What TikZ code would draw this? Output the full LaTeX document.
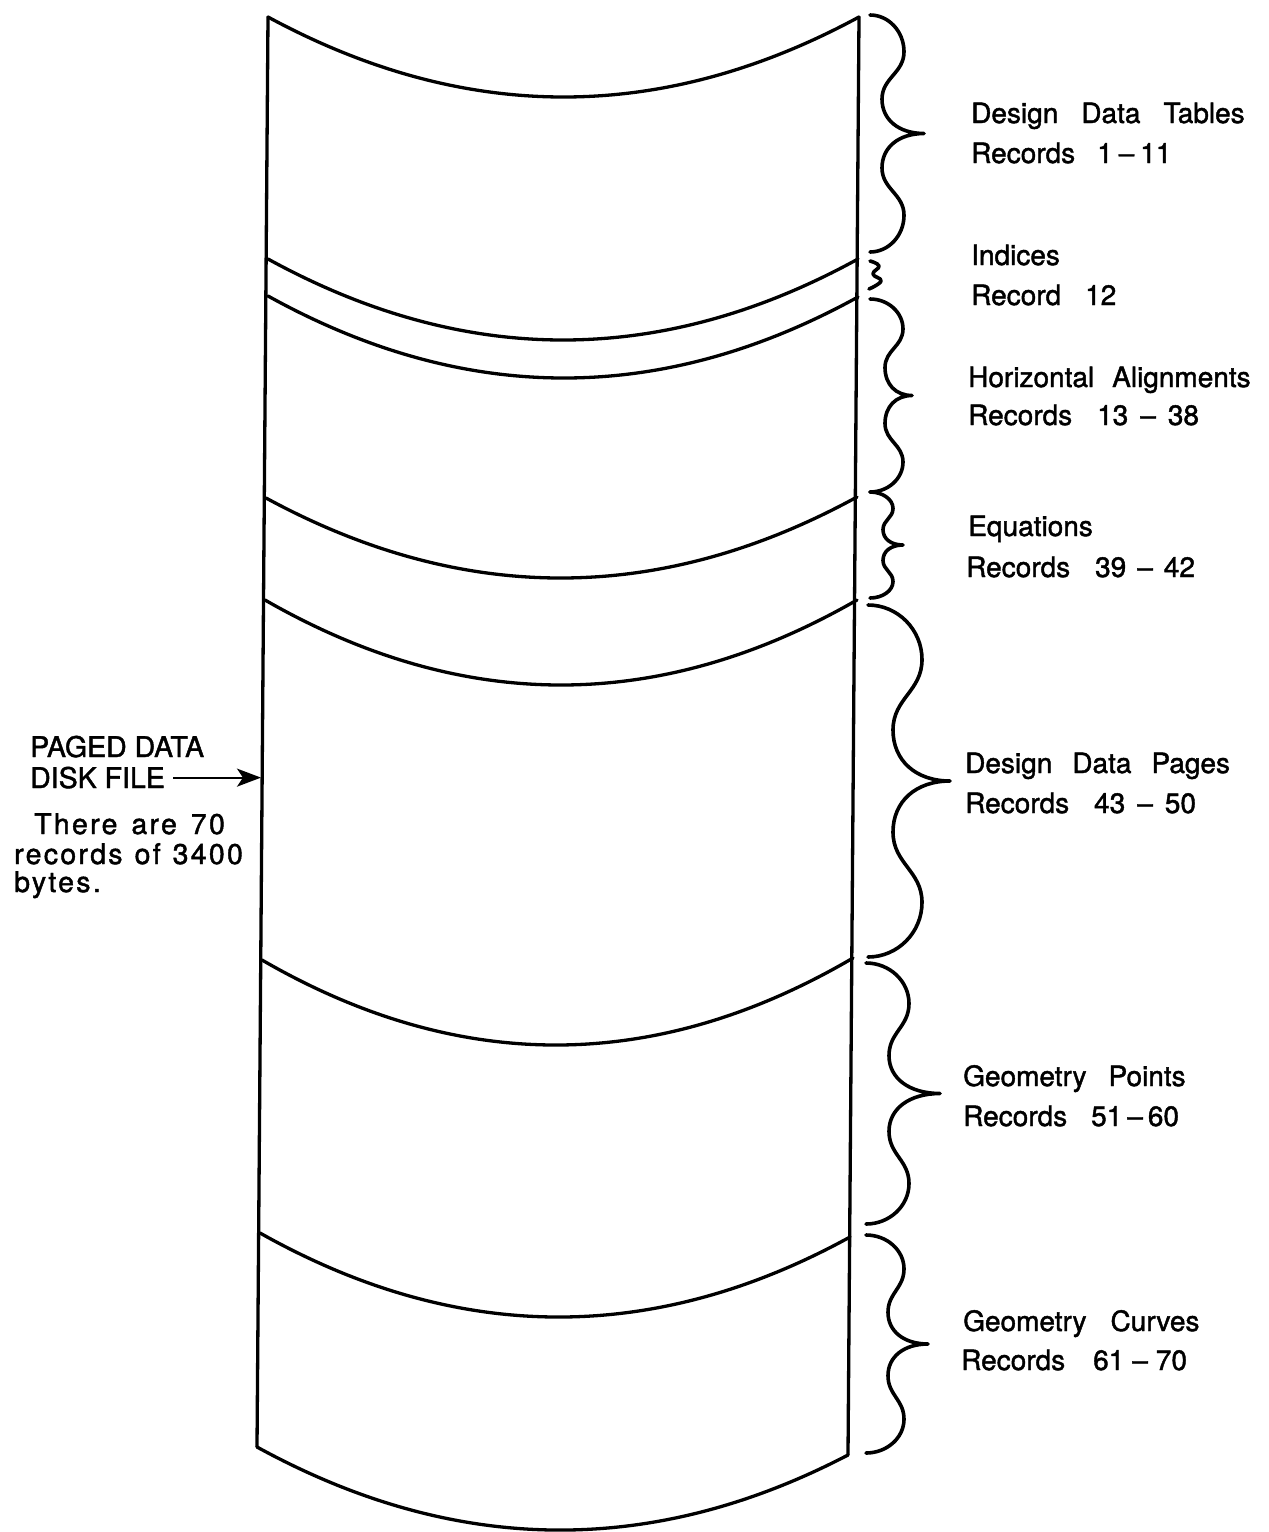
\documentclass[tikz,border=0pt]{standalone}
\usepackage{fontspec}
\setmainfont[FakeBold=1.5]{TeX Gyre Heros}
\newfontfamily\widefont[LetterSpace=8,FakeBold=1.5]{TeX Gyre Heros}
\usetikzlibrary{arrows.meta}
\tikzset{
  colline/.style={line width=3.3pt, line join=round, line cap=round},
  bracestyle/.style={line width=3.6pt, line cap=round, line join=round},
  rlbl/.style={anchor=base west, inner sep=0pt, font=\fontsize{28}{32}\selectfont},
  llbl/.style={anchor=base west, inner sep=0pt, font=\fontsize{28.5}{32}\selectfont},
  lwide/.style={anchor=base west, inner sep=0pt, font=\widefont\fontsize{28.5}{32}\selectfont},
}
\newcommand\gap[1]{\hspace{#1pt}}
% divider arc: xL yL xR yR ymid
\newcommand\divider[5]{%
  \pgfmathsetmacro\dxc{(#1+#3)/2}%
  \pgfmathsetmacro\dyc{2*#5-(#2+#4)/2}%
  \draw[colline] (#1,#2) .. controls ({#1+2/3*(\dxc-#1)},{#2+2/3*(\dyc-#2)}) and ({#3+2/3*(\dxc-#3)},{#4+2/3*(\dyc-#4)}) .. (#3,#4);
}
% curly brace: x0 ytop ybot xbulge xinner xcusp
\newcommand\curlybrace[6]{%
  \pgfmathsetmacro\bH{(#3-#2)/2}%
  \pgfmathsetmacro\bym{#2+\bH}%
  \pgfmathsetmacro\byA{#2+0.31*\bH}%
  \pgfmathsetmacro\byB{#2+0.71*\bH}%
  \pgfmathsetmacro\byC{\bym+0.29*\bH}%
  \pgfmathsetmacro\byD{\bym+0.69*\bH}%
  \draw[bracestyle] (#1,#2)
    .. controls ({#1+0.55*(#4-#1)},#2) and (#4,{\byA-0.55*(\byA-#2)}) .. (#4,\byA)
    .. controls (#4,{\byA+0.45*(\byB-\byA)}) and (#5,{\byB-0.45*(\byB-\byA)}) .. (#5,\byB)
    .. controls (#5,{\byB+0.6*(\bym-\byB)}) and ({#6-0.6*(#6-#5)},\bym) .. (#6,\bym)
    .. controls ({#6-0.6*(#6-#5)},\bym) and (#5,{\byC-0.6*(\byC-\bym)}) .. (#5,\byC)
    .. controls (#5,{\byC+0.45*(\byD-\byC)}) and (#4,{\byD-0.45*(\byD-\byC)}) .. (#4,\byD)
    .. controls (#4,{\byD+0.55*(#3-\byD)}) and ({#1+0.55*(#4-#1)},#3) .. (#1,#3);
}
\begin{document}
\begin{tikzpicture}[x=1pt,y=-1pt]
\fill[white] (0,0) rectangle (1269,1532);
\useasboundingbox (0,0) rectangle (1269,1532);

% column sides
\draw[colline] (268,17) -- (257,1447);
\draw[colline] (859,17) -- (848,1455);
% dividers
\divider{268}{17}{859}{17}{97}
\divider{268}{259}{858}{259}{340}
\divider{268}{296}{858}{297}{378}
\divider{266}{498}{857}{497}{578}
\divider{265}{600}{857}{600}{685}
\divider{262}{960}{853}{958}{1045}
\divider{260}{1233}{850}{1237}{1317}
\divider{257}{1447}{848}{1455}{1530}

% braces
\curlybrace{870}{15}{252}{904}{882}{924}
\draw[bracestyle] plot[smooth, tension=0.8] coordinates {(870,261) (879,266) (873,274) (881,281) (869,289)};
\curlybrace{870}{299}{492}{903}{885}{912}
\curlybrace{870}{492}{598}{893}{883}{903}
\curlybrace{868}{605}{957}{922}{893}{950}
\curlybrace{866}{963}{1224}{909}{889}{940}
\curlybrace{866}{1235}{1453}{904}{888}{928}

% right labels
\node[rlbl] (t1) at (971,123) {Design\gap{23}Data\gap{23}Tables};
\node[rlbl] (r1) at (971,163) {Records\gap{22}1\gap{6}--\gap{6}11};
\node[rlbl] (t2) at (971,265) {Indices};
\node[rlbl] (r2) at (971,305) {Record\gap{24}12};
\node[rlbl] (t3) at (968,387) {Horizontal\gap{18}Alignments};
\node[rlbl] (r3) at (968,425) {Records\gap{25}13\gap{12}--\gap{12}38};
\node[rlbl] (t4) at (968,536) {Equations};
\node[rlbl] (r4) at (966,577) {Records\gap{25}39\gap{11}--\gap{11}42};
\node[rlbl] (t5) at (965,773) {Design\gap{20}Data\gap{20}Pages};
\node[rlbl] (r5) at (965,813) {Records\gap{25}43\gap{12}--\gap{12}50};
\node[rlbl] (t6) at (963,1086) {Geometry\gap{22}Points};
\node[rlbl] (r6) at (963,1126) {Records\gap{24}51\gap{5}--\gap{5}60};
\node[rlbl] (t7) at (963,1331) {Geometry\gap{24}Curves};
\node[rlbl] (r7) at (961,1370) {Records\gap{28}61\gap{8}--\gap{8}70};

% left labels
\node[llbl] (l1) at (30,757) {PAGED DATA};
\node[llbl] (l2) at (30,788) {DISK FILE};
\node[lwide] (l3) at (34,834) {There\gap{14}are\gap{14}70};
\node[lwide] (l4) at (14,864) {records\gap{12}of\gap{12}3400};
\node[lwide] (l5) at (14,892) {bytes.};
\coordinate (astart) at ([xshift=8pt]l2.east);
\coordinate (edge) at (261,780);
\draw[line width=2.2pt, -{Stealth[length=24pt,width=18pt,inset=6pt]}] (astart) -- (astart -| edge);
\end{tikzpicture}
\end{document}
